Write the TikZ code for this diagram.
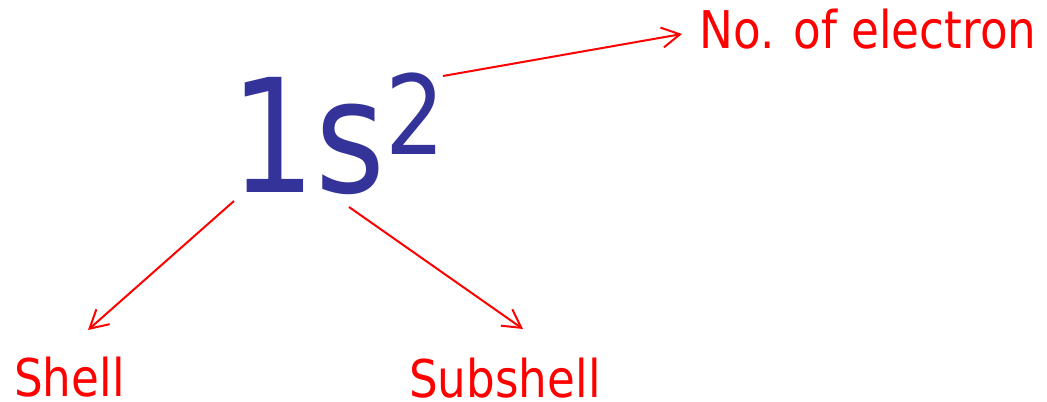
\documentclass[tikz,border=0pt]{standalone}
\usepackage{fontspec}
\setmainfont{DejaVu Sans}[FakeStretch=0.85]
\newfontfamily\labfont{DejaVu Sans}[FakeStretch=0.87]
\usetikzlibrary{arrows.meta}
\definecolor{symblue}{HTML}{333399}
\definecolor{labred}{HTML}{FF0000}
\tikzset{
  lab/.style={text=labred, inner sep=0pt, anchor=base west, font=\labfont\fontsize{39}{44}\selectfont},
  sym/.style={text=symblue, inner sep=0pt, anchor=base west, font=\fontsize{118.5}{130}\selectfont},
  pointer/.style={draw=labred, line width=1.5pt, -{Straight Barb[length=13.5pt,width=15pt,line width=1.5pt]}}
}
\begin{document}
\begin{tikzpicture}[x=0.75pt,y=-0.75pt]
\useasboundingbox (0,0) rectangle (1047,402);
\node[sym] (sym) at (230,193) {1s\raisebox{28.5pt}{\fontsize{82.5}{90}\selectfont 2}};
\node[lab] (elec) at (699,49) {No. of electron};
\node[lab] (shell) at (14,397) {Shell};
\node[lab] (sub) at (409,398) {Subshell};
\coordinate (fromtwo) at (443,76);
\coordinate (fromone) at (234,201);
\coordinate (froms) at (349,207);
\coordinate (toelec) at (682,34);
\coordinate (toshell) at (88,330);
\coordinate (tosub) at (523,329);
\draw[pointer] (fromtwo) -- (toelec);
\draw[pointer] (fromone) -- (toshell);
\draw[pointer] (froms) -- (tosub);
\end{tikzpicture}
\end{document}
